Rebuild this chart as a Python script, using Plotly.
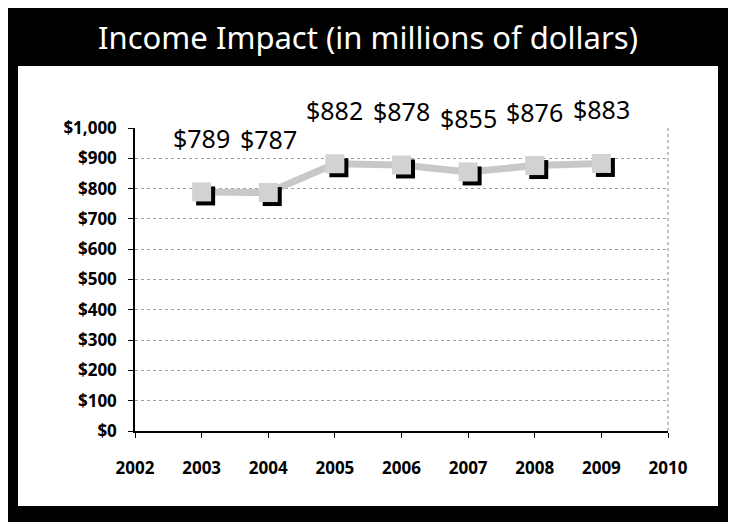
import plotly.graph_objects as go

years = [2003, 2004, 2005, 2006, 2007, 2008, 2009]
income = [789, 787, 882, 878, 855, 876, 883]
labels = ["$789", "$787", "$882", "$878", "$855", "$876", "$883"]
y_ticks = [0, 100, 200, 300, 400, 500, 600, 700, 800, 900, 1000]
y_tick_text = ["$0", "$100", "$200", "$300", "$400", "$500", "$600", "$700", "$800", "$900", "$1,000"]
x_ticks = [2002, 2003, 2004, 2005, 2006, 2007, 2008, 2009, 2010]

W, H = 736, 522
OFF = 8  # page body margin
L, R, T, B = 135 - OFF, 76, 128 - OFF, 99
pw, ph = W - L - R, H - T - B
XR = [2002, 2010]
YR = [0, 1000]
# shadow offset in pixels
dx, dy = 4, 4
sx = dx / pw * (XR[1] - XR[0])
sy = dy / ph * (YR[1] - YR[0])

tick_font = dict(family="Open Sans", size=17, color="black", weight="bold")
hand_font = "Noto Sans"

fig = go.Figure()

# thick grey line on main axes
fig.add_trace(go.Scatter(
    x=years, y=income, mode="lines",
    line=dict(color="#c8c8c8", width=7),
    xaxis="x", yaxis="y", hoverinfo="skip", showlegend=False))

# black shadow squares (shifted axes)
fig.add_trace(go.Scatter(
    x=years, y=income, mode="markers",
    marker=dict(symbol="square", size=19, color="black"),
    xaxis="x2", yaxis="y2", hoverinfo="skip", showlegend=False))

# grey squares
fig.add_trace(go.Scatter(
    x=years, y=income, mode="markers",
    marker=dict(symbol="square", size=19, color="#d2d2d2", line=dict(width=0)),
    xaxis="x3", yaxis="y3", showlegend=False))

for xv, yv, t in zip(years, income, labels):
    fig.add_annotation(x=xv, y=yv, xref="x", yref="y", text=t, showarrow=False,
                       yshift=54, font=dict(family=hand_font, size=25, color="black"))

# white panel
px0, px1, py0, py1 = 18 - OFF, 718 - OFF, 66 - OFF, 506 - OFF
fig.add_shape(type="rect", xref="paper", yref="paper",
              x0=(px0 - L) / pw, x1=(px1 - L) / pw,
              y0=(H - B - py1) / ph, y1=(H - B - py0) / ph,
              fillcolor="white", line=dict(width=0), layer="below")
# dotted right border of plot area
fig.add_shape(type="line", xref="paper", yref="paper", x0=1, x1=1, y0=0, y1=1,
              line=dict(color="#888888", width=1, dash="dot"), layer="below")

fig.update_layout(
    width=W, height=H,
    margin=dict(l=L, r=R, t=T, b=B),
    paper_bgcolor="black", plot_bgcolor="white",
    title=dict(text="Income Impact (in millions of dollars)",
               font=dict(family=hand_font, size=31, color="white"),
               x=(368 - OFF) / W, xref="container", xanchor="center",
               y=1 - (38 - OFF) / H, yref="container", yanchor="middle"),
    xaxis=dict(range=XR, tickvals=x_ticks, ticktext=[str(v) for v in x_ticks],
               showgrid=False, zeroline=False, showline=True, linecolor="black", linewidth=1.5,
               ticks="outside", ticklen=5, tickcolor="black", ticklabelstandoff=16,
               tickfont=tick_font, fixedrange=True),
    yaxis=dict(range=YR, tickvals=y_ticks, ticktext=y_tick_text,
               showgrid=True, gridcolor="#a0a0a0", griddash="dot", gridwidth=1,
               zeroline=False, showline=True, linecolor="black", linewidth=1.5,
               ticks="outside", ticklen=5, tickcolor="black", ticklabelstandoff=8,
               tickfont=tick_font, fixedrange=True),
    xaxis2=dict(range=[XR[0] - sx, XR[1] - sx], overlaying="x", visible=False, fixedrange=True),
    yaxis2=dict(range=[YR[0] + sy, YR[1] + sy], overlaying="y", visible=False, fixedrange=True),
    xaxis3=dict(range=XR, overlaying="x", visible=False, fixedrange=True),
    yaxis3=dict(range=YR, overlaying="y", visible=False, fixedrange=True),
)

fig.write_html("out.html")
